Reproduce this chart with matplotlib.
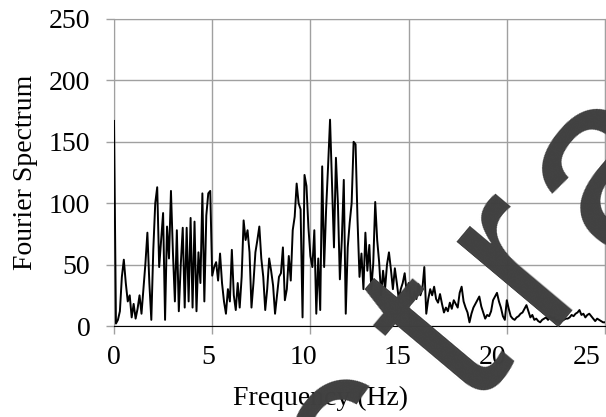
import numpy as np
import matplotlib
matplotlib.use("Agg")
import matplotlib.pyplot as plt

# spectre lu sur l'image, pas de 0.1 Hz
df = 0.1
amp = [
    167, 2, 5, 12, 40, 54, 35, 20, 25, 7,          # 0 - 0.9
    18, 6, 14, 25, 10, 30, 51, 76, 35, 5,          # 1
    62, 100, 113, 48, 70, 92, 5, 81, 55, 110,      # 2
    60, 20, 78, 12, 50, 80, 15, 80, 20, 88,        # 3
    15, 85, 12, 60, 35, 108, 20, 90, 108, 110,     # 4
    41, 48, 52, 37, 59, 35, 20, 10, 30, 20,        # 5
    62, 25, 13, 35, 15, 40, 86, 70, 78, 60,        # 6
    15, 35, 60, 70, 81, 55, 40, 13, 30, 55,        # 7
    45, 33, 10, 25, 40, 43, 64, 21, 30, 57,        # 8
    37, 78, 89, 116, 100, 95, 7, 123, 114, 80,     # 9
    57, 48, 78, 10, 55, 13, 130, 48, 95, 130,      # 10
    168, 117, 64, 137, 100, 38, 70, 119, 10, 64,   # 11
    84, 100, 150, 148, 86, 40, 59, 30, 76, 45,     # 12
    66, 30, 51, 101, 70, 52, 25, 45, 30, 50,       # 13
    60, 46, 30, 47, 35, 22, 30, 35, 43, 28,        # 14
    35, 25, 20, 28, 22, 34, 25, 30, 48, 10,        # 15
    22, 30, 25, 32, 22, 19, 26, 18, 11, 15,        # 16
    12, 19, 14, 21, 18, 15, 27, 32, 20, 15,        # 17
    11, 3, 10, 15, 18, 21, 24, 16, 11, 6,          # 18
    9, 8, 12, 21, 24, 27, 20, 15, 8, 5,            # 19
    21, 14, 8, 6, 5, 7, 8, 10, 11, 14,             # 20
    17, 12, 7, 9, 5, 6, 4, 3, 5, 6,                # 21
    7, 5, 8, 6, 7, 4, 5, 2, 4, 5,                  # 22
    6, 6, 7, 9, 8, 10, 11, 13, 9, 10,              # 23
    7, 9, 10, 8, 6, 4, 6, 5, 4, 3,                 # 24
    3, 4, 3, 2, 3, 2,                              # 25
]
freq = np.arange(len(amp)) * df

x_ticks = [0, 5, 10, 15, 20, 25]
y_ticks = [0, 50, 100, 150, 200, 250]
x_label = "Frequency (Hz)"
y_label = "Fourier Spectrum"

# les etiquettes x de l'original sont un peu plus serrees que la grille
label_scale = 0.963

# filigrane
mark_letters = ["c", "t", "r", "a"]
mark_pos = [(0.60, -0.27), (0.776, 0.015), (0.894, 0.215), (1.014, 0.370)]

plt.rcParams['font.family'] = ['Liberation Serif', 'DejaVu Serif']
grid_col = '#a0a0a0'

fig = plt.figure(figsize=(6.06, 4.17), dpi=100)
ax = fig.add_axes([114 / 606, 1 - 326 / 417, 491 / 606, 307 / 417])

ax.plot(freq, amp, color='black', linewidth=1.4, zorder=3)

ax.set_xlim(0, 25)
ax.set_ylim(0, 250)
ax.xaxis.remove_overlapping_locs = False
ax.set_xticks(x_ticks)
ax.set_xticklabels([])
ax.set_xticks([t * label_scale for t in x_ticks], minor=True)
ax.set_xticklabels([str(t) for t in x_ticks], minor=True)
ax.set_yticks(y_ticks)
ax.grid(True, which='major', color=grid_col, linewidth=1)
ax.set_axisbelow(True)

for side in ['left', 'top', 'right']:
    ax.spines[side].set_color(grid_col)
ax.spines['bottom'].set_color('black')
ax.spines['bottom'].set_zorder(4)

ax.tick_params(axis='x', which='major', length=6, width=1, color=grid_col)
ax.tick_params(axis='x', which='minor', length=0, labelsize=20, pad=14)
ax.tick_params(axis='y', length=6, width=1, color=grid_col, labelsize=20, pad=11)

ax.set_xlabel(x_label, fontsize=20)
ax.xaxis.set_label_coords(0.42, -0.195)
ax.set_ylabel(y_label, fontsize=20)
ax.yaxis.set_label_coords(-0.155, 0.5)

for ch, (px, py) in zip(mark_letters, mark_pos):
    fig.text(px, py, ch, rotation=50, rotation_mode='anchor',
             ha='left', va='baseline', fontsize=180, color='#404040',
             family='Liberation Sans', zorder=10)

fig.savefig("out.png", dpi=100)
